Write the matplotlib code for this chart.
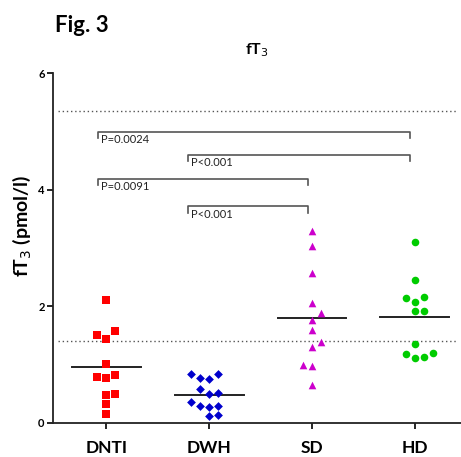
import numpy as np
import matplotlib
matplotlib.use('Agg')
import matplotlib.pyplot as plt

plt.rcParams['font.family'] = ['Lato', 'DejaVu Sans']

groups = ['DNTI', 'DWH', 'SD', 'HD']

dnti = [2.11, 1.51, 1.58, 1.44, 1.02, 0.79, 0.77, 0.82, 0.48, 0.49, 0.32, 0.155]
dwh = [0.84, 0.78, 0.756, 0.836, 0.58, 0.50, 0.52, 0.366, 0.30, 0.28, 0.30, 0.12, 0.137]
sd = [3.30, 3.03, 2.57, 2.06, 1.89, 1.76, 1.60, 1.31, 1.39, 0.99, 0.98, 0.65]
hd = [3.11, 2.46, 2.14, 2.07, 2.16, 1.92, 1.93, 1.36, 1.19, 1.12, 1.14, 1.20]

# column of each point in the scatter (jitter)
dnti_col = [0, -1, 1, 0, 0, -1, 0, 1, 0, 1, 0, 0]
dwh_col = [-2, -1, 0, 1, -1, 0, 1, -2, -1, 0, 1, 0, 1]
sd_col = [0, 0, 0, 0, 1, 0, 0, 0, 1, -1, 0, 0]
hd_col = [0, 0, -1, 0, 1, 0, 1, 0, -1, 0, 1, 2]

# reference range (dotted lines)
ref_range = [1.41, 5.36]

# significance brackets: (x start, x end, y, label)
brackets = [
    (-0.08, 2.95, 5.0, 'P=0.0024'),
    (0.79, 2.95, 4.6, 'P<0.001'),
    (-0.08, 1.96, 4.19, 'P=0.0091'),
    (0.79, 1.96, 3.72, 'P<0.001'),
]

JITTER = 0.088
values = [dnti, dwh, sd, hd]
cols = [dnti_col, dwh_col, sd_col, hd_col]
markers = ['s', 'D', '^', 'o']
colors = ['#ff0000', '#0000cc', '#cc00cc', '#00cc00']
sizes = [26, 20, 30, 30]

fig = plt.figure(figsize=(4.61, 4.57), dpi=100)
ax = fig.add_axes([0.115, 0.0744, 0.885, 0.7652])

for i, (v, c) in enumerate(zip(values, cols)):
    xs = i + JITTER * np.array(c)
    ax.scatter(xs, v, marker=markers[i], s=sizes[i], color=colors[i],
               linewidths=0, zorder=3)
    m = np.mean(v)
    ax.plot([i - 0.335, i + 0.335], [m, m], color='#222222', lw=1.4, zorder=2)

for y in ref_range:
    ax.axhline(y, xmin=0.013, xmax=0.99, color='#555555', lw=1.0,
               linestyle=(0, (1, 2)), zorder=1)

for x0, x1, y, label in brackets:
    ax.plot([x0, x0, x1, x1], [y - 0.11, y, y, y - 0.11], color='#555555',
            lw=1.2, zorder=2)
    ax.text(x0 + 0.03, y - 0.04, label, ha='left', va='top', fontsize=8,
            color='#222222')

ax.set_xlim(-0.52, 3.45)
ax.set_ylim(0, 6)
ax.set_xticks(range(len(groups)))
ax.set_xticklabels(groups, fontsize=12.5, fontweight='bold')
ax.set_yticks([0, 2, 4, 6])
ax.set_yticklabels(['0', '2', '4', '6'], fontsize=8, fontweight='bold')
ax.tick_params(axis='x', length=4, width=1.2, pad=8)
ax.tick_params(axis='y', length=4, width=1.2, pad=2)

for side in ['top', 'right']:
    ax.spines[side].set_visible(False)
for side in ['left', 'bottom']:
    ax.spines[side].set_linewidth(1.3)
    ax.spines[side].set_color('#222222')

ax.set_ylabel('fT$_3$ (pmol/l)', fontsize=14, fontweight='bold')
ax.yaxis.set_label_coords(-0.05, 0.563)
ax.set_title('fT$_3$', fontsize=11.5, fontweight='bold', pad=14)
fig.text(0.119, 0.945, 'Fig. 3', fontsize=16, fontweight='bold', ha='left',
         va='center')

fig.savefig('out.png', dpi=100)
